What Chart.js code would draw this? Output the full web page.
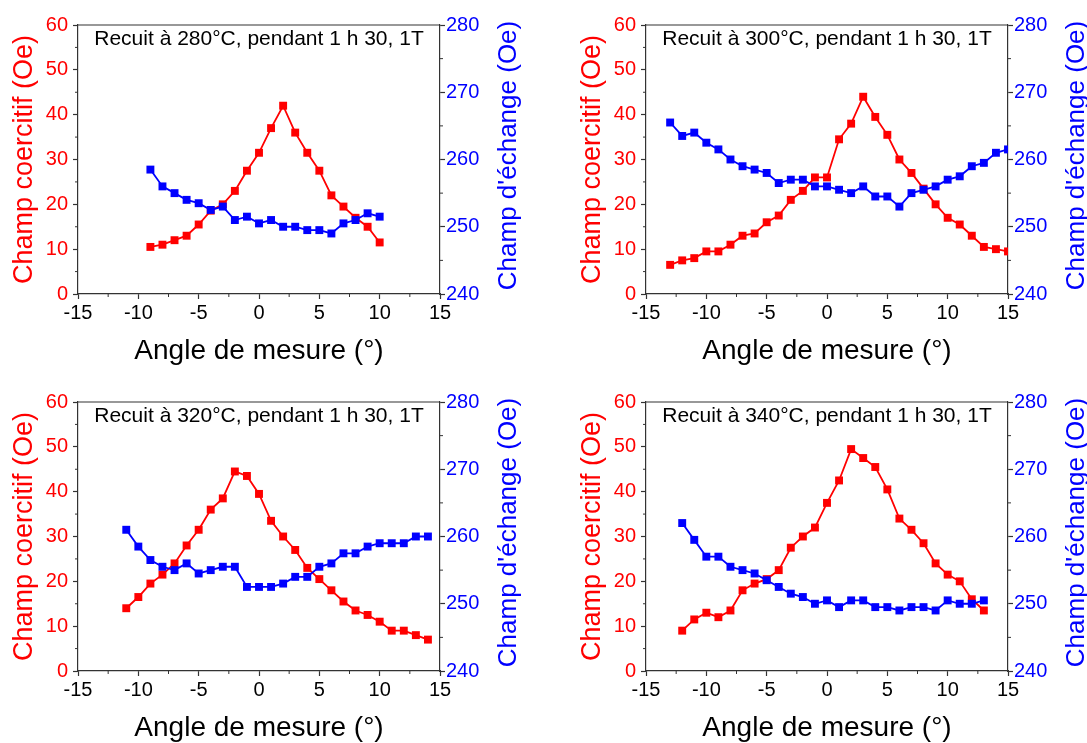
<!DOCTYPE html>
<html lang="fr">
<head>
<meta charset="UTF-8">
<title>Champ coercitif et champ d'échange</title>
<script src="https://cdn.jsdelivr.net/npm/chart.js"></script>
<style>
  body { margin: 0; background: #fff; width: 1087px; height: 743px; overflow: hidden; position: relative; }
  .panel { position: absolute; width: 526px; height: 372px; }
</style>
</head>
<body>
<div class="panel" style="left:0;top:0"><canvas id="c280"></canvas></div>
<div class="panel" style="left:568px;top:0"><canvas id="c300"></canvas></div>
<div class="panel" style="left:0;top:377px"><canvas id="c320"></canvas></div>
<div class="panel" style="left:568px;top:377px"><canvas id="c340"></canvas></div>
<script>
// Recuit à 280°C
const angles280 = [-9, -8, -7, -6, -5, -4, -3, -2, -1, 0, 1, 2, 3, 4, 5, 6, 7, 8, 9, 10];
const hc280 = [10.5, 11, 12, 13, 15.5, 18.6, 20, 23, 27.5, 31.5, 37, 42, 36, 31.5, 27.5, 22, 19.5, 17, 15, 11.5];
const hex280 = [258.5, 256, 255, 254, 253.5, 252.5, 253, 251, 251.5, 250.5, 251, 250, 250, 249.5, 249.5, 249, 250.5, 251, 252, 251.5];

// Recuit à 300°C
const angles300 = [-13, -12, -11, -10, -9, -8, -7, -6, -5, -4, -3, -2, -1, 0, 1, 2, 3, 4, 5, 6, 7, 8, 9, 10, 11, 12, 13, 14, 15];
const hc300 = [6.5, 7.5, 8, 9.5, 9.5, 11, 13, 13.5, 16, 17.5, 21, 23, 26, 26, 34.5, 38, 44, 39.5, 35.5, 30, 27, 23.5, 20, 17, 15.5, 13, 10.5, 10, 9.5];
const hex300 = [265.5, 263.5, 264, 262.5, 261.5, 260, 259, 258.5, 258, 256.5, 257, 257, 256, 256, 255.5, 255, 256, 254.5, 254.5, 253, 255, 255.5, 256, 257, 257.5, 259, 259.5, 261, 261.5];

// Recuit à 320°C
const angles320 = [-11, -10, -9, -8, -7, -6, -5, -4, -3, -2, -1, 0, 1, 2, 3, 4, 5, 6, 7, 8, 9, 10, 11, 12, 13, 14];
const hc320 = [14, 16.5, 19.5, 21.5, 24, 28, 31.5, 36, 38.5, 44.5, 43.5, 39.5, 33.5, 30, 27, 23, 20.5, 18, 15.5, 13.5, 12.5, 11, 9, 9, 8, 7];
const hex320 = [261, 258.5, 256.5, 255.5, 255, 256, 254.5, 255, 255.5, 255.5, 252.5, 252.5, 252.5, 253, 254, 254, 255.5, 256, 257.5, 257.5, 258.5, 259, 259, 259, 260, 260];

// Recuit à 340°C
const angles340 = [-12, -11, -10, -9, -8, -7, -6, -5, -4, -3, -2, -1, 0, 1, 2, 3, 4, 5, 6, 7, 8, 9, 10, 11, 12, 13];
const hc340 = [9, 11.5, 13, 12, 13.5, 18, 19.5, 20.5, 22.5, 27.5, 30, 32, 37.5, 42.5, 49.5, 47.5, 45.5, 40.5, 34, 31.5, 28.5, 24, 21.5, 20, 16, 13.5];
const hex340 = [262, 259.5, 257, 257, 255.5, 255, 254.5, 253.5, 252.5, 251.5, 251, 250, 250.5, 249.5, 250.5, 250.5, 249.5, 249.5, 249, 249.5, 249.5, 249, 250.5, 250, 250, 250.5];

const titles = ['Recuit à 280°C, pendant 1 h 30, 1T', 'Recuit à 300°C, pendant 1 h 30, 1T',
                'Recuit à 320°C, pendant 1 h 30, 1T', 'Recuit à 340°C, pendant 1 h 30, 1T'];

const RED = '#ff0000';
const BLUE = '#0000ff';
const AXIS = '#333333';
const FONT = "'Liberation Sans', Arial, sans-serif";

// top frame, minor ticks, right axis title (bottom-to-top) and the annotation
const extrasPlugin = {
  id: 'extras',
  afterDraw(chart, args, opts) {
    const { ctx, chartArea: a, scales } = chart;
    ctx.save();
    ctx.strokeStyle = AXIS;
    ctx.lineWidth = 1.2;
    ctx.beginPath();
    ctx.moveTo(a.left, a.top);
    ctx.lineTo(a.right, a.top);
    ctx.stroke();

    ctx.lineWidth = 1;
    const mids = s => s.ticks.slice(1).map((t, i) => (t.value + s.ticks[i].value) / 2);
    ctx.beginPath();
    mids(scales.x).forEach(v => {
      const px = scales.x.getPixelForValue(v);
      ctx.moveTo(px, a.bottom); ctx.lineTo(px, a.bottom + 3);
    });
    mids(scales.y).forEach(v => {
      const py = scales.y.getPixelForValue(v);
      ctx.moveTo(a.left, py); ctx.lineTo(a.left - 3, py);
    });
    mids(scales.y1).forEach(v => {
      const py = scales.y1.getPixelForValue(v);
      ctx.moveTo(a.right, py); ctx.lineTo(a.right + 3, py);
    });
    ctx.stroke();

    // right axis title
    ctx.fillStyle = BLUE;
    ctx.font = '26px ' + FONT;
    ctx.textAlign = 'center';
    ctx.textBaseline = 'middle';
    ctx.translate(a.right + 69, (a.top + a.bottom) / 2 - 4);
    ctx.rotate(-Math.PI / 2);
    ctx.fillText("Champ d'échange (Oe)", 0, 0);
    ctx.setTransform(1, 0, 0, 1, 0, 0);

    // annotation
    ctx.fillStyle = '#000';
    ctx.font = '21px ' + FONT;
    ctx.fillText(opts.text, (a.left + a.right) / 2, a.top + 14);
    ctx.restore();
  }
};

function makePanel(id, angles, hc, hex, text) {
  new Chart(document.getElementById(id), {
    type: 'line',
    data: {
      datasets: [
        {
          label: "Champ d'échange",
          data: angles.map((x, i) => ({ x: x, y: hex[i] })),
          yAxisID: 'y1',
          borderColor: BLUE,
          backgroundColor: BLUE,
          borderWidth: 1.8,
          pointStyle: 'rect',
          pointRadius: 5.6,
          pointBorderWidth: 0,
          order: 0
        },
        {
          label: 'Champ coercitif',
          data: angles.map((x, i) => ({ x: x, y: hc[i] })),
          yAxisID: 'y',
          borderColor: RED,
          backgroundColor: RED,
          borderWidth: 1.8,
          pointStyle: 'rect',
          pointRadius: 5.6,
          pointBorderWidth: 0,
          order: 1
        }
      ]
    },
    options: {
      responsive: true,
      maintainAspectRatio: false,
      animation: false,
      layout: { padding: { top: 25, left: 0, right: 0, bottom: 0 } },
      plugins: { legend: { display: false }, tooltip: { enabled: false }, extras: { text: text } },
      scales: {
        x: {
          type: 'linear', min: -15, max: 15,
          ticks: { stepSize: 5, color: '#000', font: { family: FONT, size: 20 }, padding: 2, maxRotation: 0 },
          grid: { drawOnChartArea: false, tickLength: 5, tickColor: AXIS, tickWidth: 1.2 },
          border: { color: AXIS, width: 1.2 },
          title: { display: true, text: 'Angle de mesure (°)', color: '#000', font: { family: FONT, size: 28 }, padding: { top: 0, bottom: 4 } },
          afterFit: s => { s.height = 78; }
        },
        y: {
          position: 'left', min: 0, max: 60,
          ticks: { stepSize: 10, color: RED, font: { family: FONT, size: 20 }, padding: 5 },
          grid: { drawOnChartArea: false, tickLength: 5, tickColor: AXIS, tickWidth: 1.2 },
          border: { color: AXIS, width: 1.2 },
          title: { display: true, text: 'Champ coercitif (Oe)', color: RED, font: { family: FONT, size: 27 }, padding: { top: 8, bottom: 0 } },
          afterFit: s => { s.width = 78; }
        },
        y1: {
          position: 'right', min: 240, max: 280,
          ticks: { stepSize: 10, color: BLUE, font: { family: FONT, size: 20 }, padding: 1 },
          grid: { drawOnChartArea: false, tickLength: 5, tickColor: AXIS, tickWidth: 1.2 },
          border: { color: AXIS, width: 1.2 },
          afterFit: s => { s.width = 86; }
        }
      }
    },
    plugins: [extrasPlugin]
  });
}

makePanel('c280', angles280, hc280, hex280, titles[0]);
makePanel('c300', angles300, hc300, hex300, titles[1]);
makePanel('c320', angles320, hc320, hex320, titles[2]);
makePanel('c340', angles340, hc340, hex340, titles[3]);
</script>
</body>
</html>
